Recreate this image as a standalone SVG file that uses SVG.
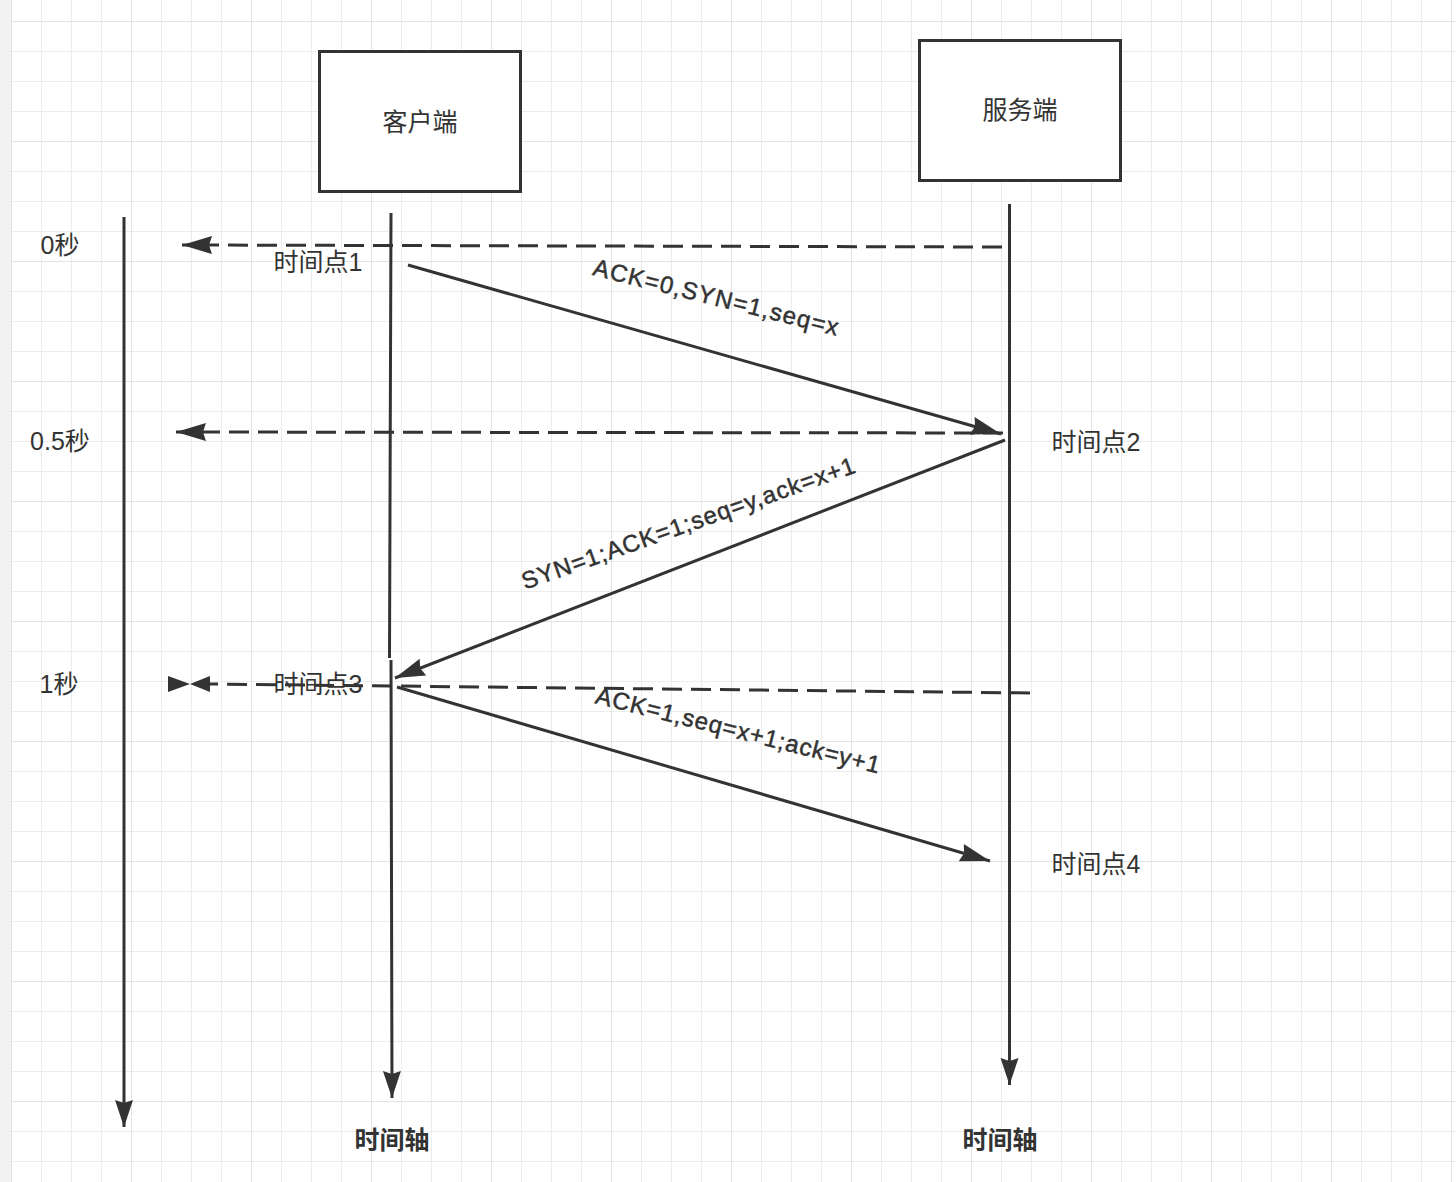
<svg xmlns="http://www.w3.org/2000/svg" width="1456" height="1182" viewBox="0 0 1456 1182">
<defs>
<pattern id="minor" x="11" y="21" width="30" height="30" patternUnits="userSpaceOnUse">
<path d="M0,0 H30 M0,0 V30" stroke="#ececec" stroke-width="2" fill="none"/>
</pattern>
<pattern id="major" x="11" y="21" width="120" height="120" patternUnits="userSpaceOnUse">
<path d="M0,0 H120 M0,0 V120" stroke="#e3e3e3" stroke-width="2" fill="none"/>
</pattern>
<marker id="arr" markerUnits="userSpaceOnUse" markerWidth="32" markerHeight="20" refX="30" refY="9" orient="auto">
<path d="M0,0 L30,9 L0,18 L3,9 Z" fill="#333"/>
</marker>
<marker id="arrD" markerUnits="userSpaceOnUse" markerWidth="30" markerHeight="20" refX="27" refY="9" orient="auto">
<path d="M0,0 L27,9 L0,18 L3,9 Z" fill="#333"/>
</marker>
</defs>
<style>
.ln{stroke:#333;stroke-width:3;fill:none}
.dash{stroke:#333;stroke-width:3;fill:none;stroke-dasharray:20 9}
.box{fill:#fff;stroke:#333;stroke-width:3}
.t{font-family:"Liberation Sans","Noto Sans CJK SC",sans-serif;font-size:25px;fill:#333;dominant-baseline:central}
.r{font-size:24px;stroke:#333;stroke-width:0.5}
.b{font-weight:bold}
</style>
<rect width="1456" height="1182" fill="#fff"/>
<rect width="1456" height="1182" fill="url(#minor)"/>
<rect width="1456" height="1182" fill="url(#major)"/>
<rect x="0" y="0" width="11" height="1182" fill="#f2f2f2"/>

<g id="client">
<rect class="box" x="319.5" y="51.5" width="201" height="140"/>
<text class="t" x="420" y="122" text-anchor="middle">客户端</text>
</g>
<g id="server">
<rect class="box" x="919.5" y="40.5" width="201" height="140"/>
<text class="t" x="1020" y="110" text-anchor="middle">服务端</text>
</g>

<g id="connectors">
<path class="ln" d="M124,217 L124,1127" marker-end="url(#arrD)"/>
<path class="ln" d="M391,213 L389.5,658 M391,660 L392,1098" marker-end="url(#arrD)"/>
<path class="ln" d="M1009.5,204 L1009.5,1085" marker-end="url(#arrD)"/>
<path class="dash" d="M1002,247 L182,245" marker-end="url(#arr)"/>
<path class="dash" d="M1003,433 L176,432" marker-end="url(#arr)"/>
<path class="dash" d="M1030,693 L208,684"/>
<path d="M168,676 L190,684 L168,692 Z M210,676 L190,684 L210,692 Z" fill="#333"/>
<path class="ln" d="M408,265 L1001,434" marker-end="url(#arr)"/>
<path class="ln" d="M1005,440 L395,678" marker-end="url(#arr)"/>
<path class="ln" d="M397,687 L990,861" marker-end="url(#arr)"/>
</g>

<g id="labels">
<text class="t" x="60" y="245" text-anchor="middle">0秒</text>
<text class="t" x="60" y="441" text-anchor="middle">0.5秒</text>
<text class="t" x="59" y="684" text-anchor="middle">1秒</text>
<text class="t" x="318" y="262" text-anchor="middle">时间点1</text>
<text class="t" x="1096" y="442" text-anchor="middle">时间点2</text>
<text class="t" x="318" y="684" text-anchor="middle">时间点3</text>
<text class="t" x="1096" y="864" text-anchor="middle">时间点4</text>
<text class="t b" x="392" y="1140" text-anchor="middle">时间轴</text>
<text class="t b" x="1000" y="1140" text-anchor="middle">时间轴</text>
<text class="t r" x="716" y="297" text-anchor="middle" transform="rotate(14 716 297)" textLength="252" lengthAdjust="spacing">ACK=0,SYN=1,seq=x</text>
<text class="t r" x="688" y="523" text-anchor="middle" transform="rotate(-19.5 688 523)" textLength="352" lengthAdjust="spacing">SYN=1;ACK=1;seq=y,ack=x+1</text>
<text class="t r" x="738" y="730" text-anchor="middle" transform="rotate(14 738 730)" textLength="292" lengthAdjust="spacing">ACK=1,seq=x+1;ack=y+1</text>
</g>
</svg>
